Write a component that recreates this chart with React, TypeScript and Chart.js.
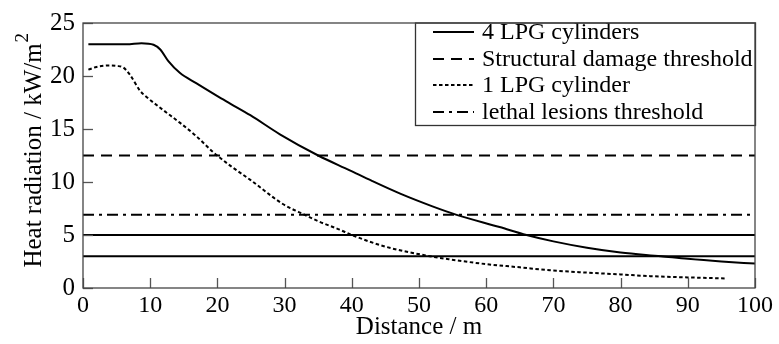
import React, { useEffect, useRef } from 'react';
import { Chart, registerables } from 'chart.js';

Chart.register(...registerables);

// ---- data ----
const lpg4X = [0.8, 3, 6.5, 8.7, 10.5, 11.5, 12.7, 14.4, 16.9, 20, 21.9, 24.9, 29.3, 35, 39.7, 43, 47.2, 52, 55.6, 62, 66, 70, 75, 80, 86, 90, 95, 100];
const lpg4Y = [23.0, 23.0, 23.0, 23.1, 22.95, 22.5, 21.4, 20.3, 19.3, 18.1, 17.4, 16.3, 14.5, 12.5, 11.1, 10.1, 8.9, 7.7, 6.9, 5.75, 5.0, 4.4, 3.8, 3.35, 3.0, 2.75, 2.5, 2.3];
const lpg1X = [0.8, 2, 4, 5, 6, 7, 8.5, 9.5, 11.9, 14.4, 16.9, 19.4, 22, 24.9, 29.8, 33, 35, 38.2, 40, 45, 51.6, 54.6, 60, 65, 69.5, 75, 80, 84.4, 90, 95.8];
const lpg1Y = [20.6, 20.85, 21.0, 20.95, 20.8, 20.1, 18.6, 18.0, 16.8, 15.6, 14.3, 12.8, 11.5, 10.2, 7.9, 6.9, 6.3, 5.5, 5.0, 3.9, 3.0, 2.7, 2.25, 1.95, 1.67, 1.45, 1.28, 1.12, 1.0, 0.9];
const thresholdX = [0, 100];
const structuralY = [12.5, 12.5];
const lethalY = [6.9, 6.9];
const level5Y = [5, 5];
const level3Y = [3, 3];
const xTicks = [0, 10, 20, 30, 40, 50, 60, 70, 80, 90, 100];
const yTicks = [0, 5, 10, 15, 20, 25];
const seriesLabels = ['4 LPG cylinders', 'Structural damage threshold', '1 LPG cylinder', 'lethal lesions threshold'];
const yTitleText = 'Heat radiation / kW/m';
const yTitleSup = '2';

const FONT = "'Liberation Serif', 'Times New Roman', serif";

const pts = (xs: number[], ys: number[]) => xs.map((x, i) => ({ x, y: ys[i] }));

const DASH_STRUCT = [11, 7];
const DASH_DOT = [3.5, 2.5];
const DASH_LETHAL = [11, 5, 3, 5];

const framePlugin = {
  id: 'frameLegend',
  afterDatasetsDraw(chart: any) {
    const { ctx, chartArea, scales } = chart;
    const { left, right, top, bottom } = chartArea;
    ctx.save();
    // tick marks (inward)
    ctx.strokeStyle = '#555';
    ctx.lineWidth = 1.3;
    ctx.setLineDash([]);
    yTicks.forEach((v) => {
      const y = Math.round(scales.y.getPixelForValue(v)) + 0.5;
      ctx.beginPath();
      ctx.moveTo(left, y);
      ctx.lineTo(left + 10, y);
      ctx.stroke();
    });
    xTicks.forEach((v) => {
      const x = Math.round(scales.x.getPixelForValue(v)) + 0.5;
      ctx.beginPath();
      ctx.moveTo(x, bottom);
      ctx.lineTo(x, bottom - 10);
      ctx.stroke();
    });
    // legend
    const lx = 415;
    const ly = top;
    const lb = 125;
    ctx.fillStyle = '#fff';
    ctx.fillRect(lx, ly, right - lx, lb - ly);
    ctx.strokeStyle = '#333';
    ctx.lineWidth = 1.3;
    ctx.strokeRect(lx + 0.5, ly, right - lx, lb - ly + 0.5);
    const items = chart.data.datasets.filter((d: any) => d.inLegend);
    ctx.font = `24px ${FONT}`;
    ctx.textBaseline = 'middle';
    ctx.textAlign = 'left';
    items.forEach((d: any, i: number) => {
      const cy = Math.round(32 + i * 26.5);
      ctx.strokeStyle = '#000';
      ctx.lineWidth = 2;
      ctx.setLineDash(d.borderDash || []);
      ctx.beginPath();
      ctx.moveTo(433, cy);
      ctx.lineTo(474, cy);
      ctx.stroke();
      ctx.setLineDash([]);
      ctx.fillStyle = '#000';
      ctx.fillText(d.label, 482, cy + 1);
    });
    // frame
    ctx.strokeStyle = '#444';
    ctx.lineWidth = 1.3;
    ctx.setLineDash([]);
    ctx.strokeRect(left, top, right - left, bottom - top);
    // superscript of y title
    const ys = scales.y;
    const tOpts = ys.options.title;
    const tSize = tOpts.font.size;
    const titleX = ys.left + tOpts.padding.top + (tSize * 1.2) / 2;
    ctx.font = `${tSize}px ${FONT}`;
    const w = ctx.measureText(yTitleText).width;
    const cyT = (top + bottom) / 2;
    ctx.translate(titleX - 11, cyT - w / 2 - 1);
    ctx.rotate(-Math.PI / 2);
    ctx.font = `19px ${FONT}`;
    ctx.textAlign = 'left';
    ctx.textBaseline = 'middle';
    ctx.fillStyle = '#000';
    ctx.fillText(yTitleSup, 0, 0);
    ctx.restore();
  },
};

export default function App() {
  const ref = useRef<HTMLCanvasElement>(null);
  useEffect(() => {
    if (!ref.current) return;
    const base = {
      borderColor: '#000',
      backgroundColor: '#000',
      borderWidth: 2,
      pointRadius: 0,
      fill: false,
    };
    const chart = new Chart(ref.current, {
      type: 'line',
      data: {
        datasets: [
          { ...base, label: seriesLabels[0], data: pts(lpg4X, lpg4Y), cubicInterpolationMode: 'monotone', inLegend: true } as any,
          { ...base, label: seriesLabels[1], data: pts(thresholdX, structuralY), borderDash: DASH_STRUCT, inLegend: true } as any,
          { ...base, label: seriesLabels[2], data: pts(lpg1X, lpg1Y), cubicInterpolationMode: 'monotone', borderDash: DASH_DOT, inLegend: true } as any,
          { ...base, label: seriesLabels[3], data: pts(thresholdX, lethalY), borderDash: DASH_LETHAL, inLegend: true } as any,
          { ...base, label: 'level 5', data: pts(thresholdX, level5Y), inLegend: false } as any,
          { ...base, label: 'level 3', data: pts(thresholdX, level3Y), inLegend: false } as any,
        ],
      },
      options: {
        animation: false,
        responsive: false,
        devicePixelRatio: 1,
        layout: { padding: { top: 18, right: 24, left: 0, bottom: 0 } },
        plugins: { legend: { display: false }, tooltip: { enabled: false } },
        scales: {
          x: {
            type: 'linear',
            min: 0,
            max: 100,
            afterBuildTicks: (s: any) => { s.ticks = xTicks.map((v) => ({ value: v })); },
            afterFit: (s: any) => { s.height = 56; },
            grid: { display: false, drawTicks: false },
            border: { display: false },
            ticks: { color: '#000', font: { family: FONT, size: 24 }, padding: 3, maxRotation: 0, autoSkip: false },
            title: { display: true, text: 'Distance / m', color: '#000', font: { family: FONT, size: 25 }, padding: { top: 0, bottom: 2 } },
          },
          y: {
            type: 'linear',
            min: 0,
            max: 25,
            afterBuildTicks: (s: any) => { s.ticks = yTicks.map((v) => ({ value: v })); },
            afterFit: (s: any) => { s.width = 83; },
            grid: { display: false, drawTicks: false },
            border: { display: false },
            ticks: { color: '#000', font: { family: FONT, size: 25 }, padding: 8, autoSkip: false },
            title: { display: true, text: yTitleText, color: '#000', font: { family: FONT, size: 25 }, padding: { top: 19, bottom: 0 } },
          },
        },
      } as any,
      plugins: [framePlugin],
    });
    return () => chart.destroy();
  }, []);
  return (
    <div style={{ position: 'absolute', left: 0, top: 0, width: 779, height: 344, background: '#fff' }}>
      <canvas ref={ref} width={779} height={344} style={{ display: 'block' }} />
    </div>
  );
}
